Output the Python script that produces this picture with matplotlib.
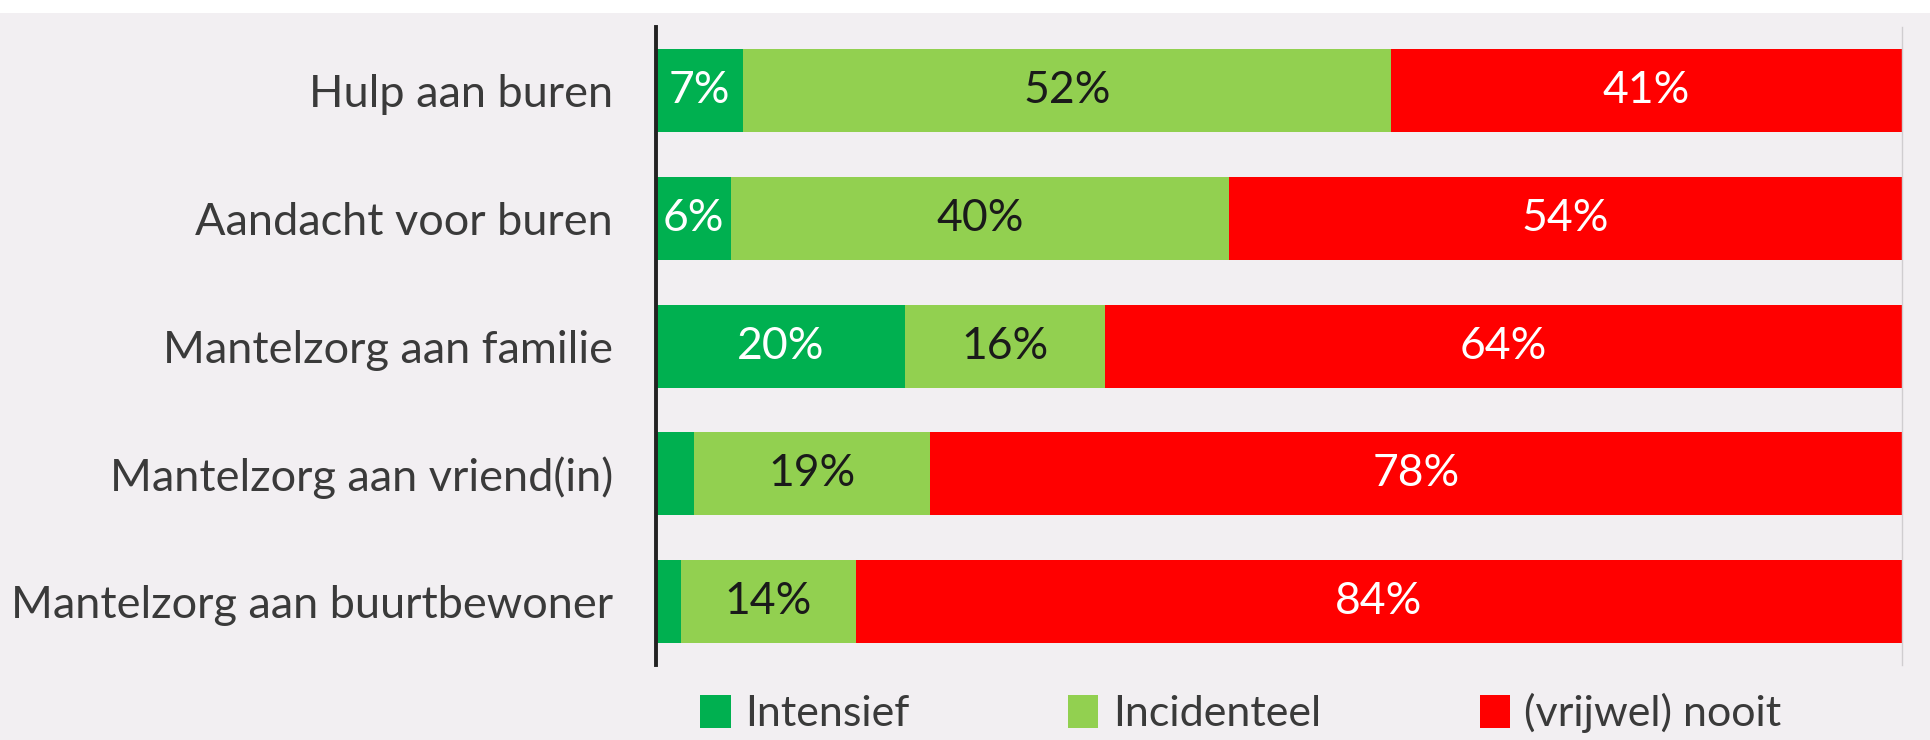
import matplotlib
matplotlib.use("Agg")
import matplotlib.pyplot as plt
from matplotlib.patches import Rectangle

categories = ["Hulp aan buren", "Aandacht voor buren", "Mantelzorg aan familie",
              "Mantelzorg aan vriend(in)", "Mantelzorg aan buurtbewoner"]
intensief = [7, 6, 20, 3, 2]
incidenteel = [52, 40, 16, 19, 14]
nooit = [41, 54, 64, 78, 84]
series_names = ["Intensief", "Incidenteel", "(vrijwel) nooit"]
series_colors = ["#00B050", "#92D050", "#FF0000"]
label_colors = ["white", "#1a1a1a", "white"]

plt.rcParams["font.family"] = ["Lato", "DejaVu Sans"]

bg = "#F2EFF2"
fig = plt.figure(figsize=(19.3, 7.4), dpi=100, facecolor=bg)
fig.patches.append(Rectangle((0, 0.983), 1, 0.017, transform=fig.transFigure,
                             facecolor="white", edgecolor="none", zorder=0))
ax = fig.add_axes([0.340, 0.101, 0.6455, 0.8625])
ax.set_facecolor(bg)

y = list(range(len(categories)))
left = [0] * len(categories)
for vals, name, col, lc in zip([intensief, incidenteel, nooit], series_names,
                               series_colors, label_colors):
    bars = ax.barh(y, vals, left=left, height=0.65, color=col, label=name,
                   edgecolor="none")
    for b, v in zip(bars, vals):
        if v >= 5:
            ax.text(b.get_x() + b.get_width() / 2, b.get_y() + b.get_height() / 2,
                    f"{v}%", ha="center", va="center", color=lc, fontsize=32)
    left = [l + v for l, v in zip(left, vals)]

ax.set_xlim(0, 100)
ax.set_ylim(4.5, -0.5)
ax.set_yticks(y)
ax.set_yticklabels(categories, fontsize=32.5, color="#3a3a3a")
ax.tick_params(axis="y", length=0, pad=31)
ax.set_xticks([])
for s in ["top", "bottom"]:
    ax.spines[s].set_visible(False)
ax.spines["left"].set_linewidth(2.8)
ax.spines["left"].set_color("#222222")
ax.spines["right"].set_linewidth(1)
ax.spines["right"].set_color("#d0cdd0")

leg = fig.legend(loc="center", bbox_to_anchor=(0.643, 0.036), ncol=3,
                 frameon=False, fontsize=31, handlelength=0.70, handleheight=0.79,
                 handletextpad=0.33, columnspacing=3.7, borderpad=0)
for t in leg.get_texts():
    t.set_color("#3a3a3a")

fig.savefig("out.png", dpi=100, facecolor=bg)
